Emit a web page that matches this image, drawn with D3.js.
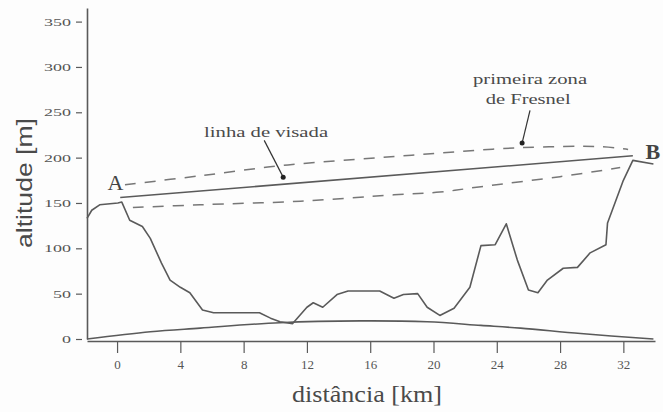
<!DOCTYPE html>
<html>
<head>
<meta charset="utf-8">
<script src="https://cdn.jsdelivr.net/npm/d3@7"></script>
<style>
  html, body { margin: 0; padding: 0; background: #fdfdfd; }
  svg { display: block; }
</style>
</head>
<body>
<svg id="chart" width="663" height="412"></svg>
<script>
// perfil do terreno (km, m)
const terrainKm  = [-1.9, -1.6, -1.1, 0.05, 0.3, 0.8, 1.6, 2.1, 2.8, 3.35, 4.0, 4.6, 5.4, 6.1, 8.2, 9.0, 9.7, 10.3, 11.1,
                    12.0, 12.4, 13.0, 13.9, 14.6, 16.6, 17.5, 18.1, 19.0, 19.6, 20.4, 21.3, 22.3, 23.0, 23.9, 24.6,
                    25.3, 26.0, 26.6, 27.2, 28.2, 29.1, 29.9, 30.9, 31.0, 32.0, 32.6, 33.9];
const terrainAlt = [133, 142, 148, 150, 151, 131, 124, 111, 84, 65, 57, 51, 32, 29, 29, 29, 23, 19, 17,
                    35, 40, 35, 49, 53, 53, 45, 49, 50, 35, 26, 34, 57, 103, 104, 127,
                    87, 54, 51, 65, 78, 79, 95, 104, 128, 175, 197, 193];

// linha de visada A -> B
const losKm  = [0.2, 32.6];
const losAlt = [156, 202];

// primeira zona de Fresnel
const fresUpKm  = [0.5, 5.25, 10.8, 16.6, 20.4, 25.5, 30.6, 32.3];
const fresUpAlt = [170, 180, 192, 200, 205, 211, 212, 209];
const fresLoKm  = [1.0, 5.25, 11.6, 17.5, 20.4, 23.0, 28.0, 31.8];
const fresLoAlt = [145, 148, 152, 159, 162, 168, 179, 189];

// curvatura da terra
const earthKm  = [-1.9, 2.1, 5.25, 10.3, 15.4, 19.6, 23.0, 25.5, 29.3, 33.9];
const earthAlt = [0, 8, 12, 18, 20, 19, 15, 12, 6, 0];

// eixos
const xTicks = [0, 4, 8, 12, 16, 20, 24, 28, 32];
const yTicks = [0, 50, 100, 150, 200, 250, 300, 350];

const SERIF = '"Liberation Serif", "DejaVu Serif", serif';
const SANS = '"Liberation Sans", Arial, sans-serif';

const svg = d3.select("#chart");
const x = d3.scaleLinear().domain([-1.9, 34]).range([87, 655]);
const y = d3.scaleLinear().domain([0, 365]).range([339, 8]);

const ink = "#5a5a5a";
const zip = (a, b) => a.map((v, i) => [v, b[i]]);
const straight = d3.line().x(d => x(d[0])).y(d => y(d[1]));
const smooth = d3.line().x(d => x(d[0])).y(d => y(d[1])).curve(d3.curveCatmullRom);

// eixo y
const yAxis = svg.append("g")
    .attr("transform", `translate(${x(-1.9)},0)`)
    .call(d3.axisLeft(y).tickValues(yTicks).tickSize(0).tickSizeOuter(0).tickPadding(16));
yAxis.select(".domain").attr("stroke", ink).attr("stroke-width", 1.6);
yAxis.selectAll(".tick line").attr("x1", -5).attr("x2", -11).attr("stroke", ink).attr("stroke-width", 1.2);
yAxis.selectAll(".tick text")
    .style("font-family", SERIF)
    .style("font-size", "11px")
    .attr("textLength", d => String(d).length * 9)
    .attr("lengthAdjust", "spacingAndGlyphs")
    .attr("fill", "#555");

// eixo x
const xAxis = svg.append("g")
    .attr("transform", `translate(0,${y(0) + 2})`)
    .call(d3.axisBottom(x).tickValues(xTicks).tickSize(12).tickSizeOuter(0).tickPadding(7));
xAxis.select(".domain").attr("stroke", ink).attr("stroke-width", 1.6);
xAxis.selectAll(".tick line").attr("stroke", ink).attr("stroke-width", 1.2);
xAxis.selectAll(".tick text")
    .style("font-family", SERIF)
    .style("font-size", "13px")
    .attr("fill", "#555");

// curvatura
svg.append("path")
    .attr("d", smooth(zip(earthKm, earthAlt)))
    .attr("fill", "none").attr("stroke", ink).attr("stroke-width", 1.6);

// terreno
svg.append("path")
    .attr("d", straight(zip(terrainKm, terrainAlt)))
    .attr("fill", "none").attr("stroke", ink).attr("stroke-width", 1.6)
    .attr("stroke-linejoin", "round");

// linha de visada
svg.append("path")
    .attr("d", straight(zip(losKm, losAlt)))
    .attr("fill", "none").attr("stroke", ink).attr("stroke-width", 1.6);

// zona de Fresnel
[zip(fresUpKm, fresUpAlt), zip(fresLoKm, fresLoAlt)].forEach(pts => {
  svg.append("path")
      .attr("d", smooth(pts))
      .attr("fill", "none").attr("stroke", "#777").attr("stroke-width", 1.5)
      .attr("stroke-dasharray", "11,9");
});

// anotações
const notes = [
  { text: "linha de visada", km: 5.5, alt: 223, len: 124, from: [9.3, 219], to: [10.5, 178.5] },
  { text: "primeira zona", km: 22.5, alt: 281, len: 114, from: [26.1, 252], to: [25.6, 216] },
  { text: "de Fresnel", km: 23.3, alt: 259, len: 85 }
];
notes.forEach(n => {
  svg.append("text")
      .attr("x", x(n.km)).attr("y", y(n.alt))
      .style("font-family", SERIF).style("font-size", "15px")
      .attr("fill", "#4a4a4a")
      .attr("textLength", n.len).attr("lengthAdjust", "spacingAndGlyphs")
      .text(n.text);
  if (n.from) {
    svg.append("line")
        .attr("x1", x(n.from[0])).attr("y1", y(n.from[1]))
        .attr("x2", x(n.to[0])).attr("y2", y(n.to[1]))
        .attr("stroke", "#333").attr("stroke-width", 1.2);
    svg.append("circle")
        .attr("cx", x(n.to[0])).attr("cy", y(n.to[1])).attr("r", 2.5)
        .attr("fill", "#222");
  }
});

// pontos A e B
svg.append("text")
    .attr("x", x(-0.6)).attr("y", y(164))
    .style("font-family", SERIF).style("font-size", "22px")
    .attr("fill", "#444").text("A");
svg.append("text")
    .attr("x", x(33.4)).attr("y", y(199))
    .style("font-family", SERIF).style("font-size", "22px").style("font-weight", "bold")
    .attr("fill", "#444").text("B");

// títulos dos eixos
svg.append("text")
    .attr("x", 367).attr("y", 402)
    .attr("text-anchor", "middle")
    .style("font-family", SERIF).style("font-size", "24px")
    .attr("fill", "#4a4a4a")
    .attr("textLength", 150).attr("lengthAdjust", "spacingAndGlyphs")
    .text("distância [km]");
svg.append("text")
    .attr("transform", "translate(32,183) rotate(-90)")
    .attr("text-anchor", "middle")
    .style("font-family", SANS).style("font-size", "22px")
    .attr("fill", "#4a4a4a")
    .attr("textLength", 130).attr("lengthAdjust", "spacingAndGlyphs")
    .text("altitude [m]");
</script>
</body>
</html>
